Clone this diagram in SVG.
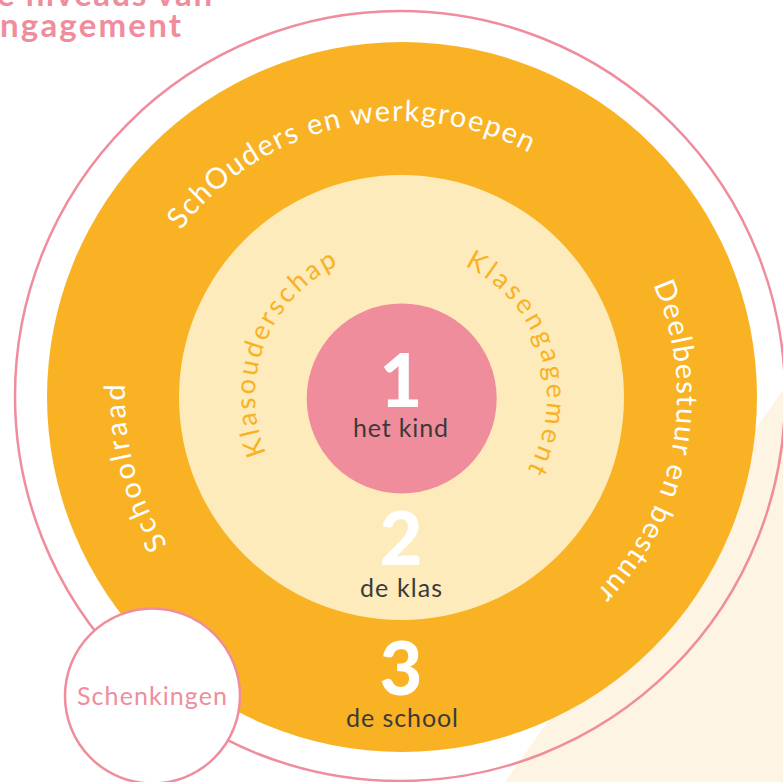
<svg xmlns="http://www.w3.org/2000/svg" width="783" height="782" viewBox="0 0 783 782">
<style>
  .pinkstroke { fill: none; stroke: #F08D9C; stroke-width: 2.5; }
  .ring-txt { font-family: Lato, "Noto Sans", sans-serif; font-size: 29px; fill: #FFFFFF; }
  .inner-txt { font-family: Lato, "Noto Sans", sans-serif; font-size: 27px; fill: #F9B224; }
  .num { font-family: Lato, "Noto Sans", sans-serif; font-weight: 900; font-size: 74px; fill: #FFFFFF; text-anchor: middle; }
  .lbl { font-family: Lato, "Noto Sans", sans-serif; font-size: 25px; fill: #3A3A3A; text-anchor: middle; }
  .title { font-family: Lato, "Noto Sans", sans-serif; font-weight: 700; font-size: 33px; fill: #F08D9C; }
</style>
<defs>
  <path id="p-schouders" d="M 180.9 230.5 A 276 276 0 0 1 603.2 209.1"/>
  <path id="p-deel" d="M 653.1 284.7 A 276 276 0 0 1 513.3 649.1"/>
  <path id="p-schoolraad" d="M 167.7 544.5 A 276 276 0 0 1 156.6 268.7"/>
  <path id="p-klasouder" d="M 266.3 453.3 A 146 146 0 0 1 394.1 251.2"/>
  <path id="p-klaseng" d="M 464.8 265.7 A 146 146 0 0 1 502.6 501.8"/>
</defs>
<rect width="783" height="782" fill="#FFFFFF"/>
<polygon id="background" points="505,782 783,390 783,782" fill="#FEF4E3"/>
<g id="outer">
  <circle class="pinkstroke" cx="400" cy="396" r="385"/>
</g>
<g id="level3">
  <circle cx="402" cy="397" r="355" fill="#F9B224"/>
  <text class="ring-txt"><textPath href="#p-schouders" textLength="388">SchOuders en werkgroepen</textPath></text>
  <text class="ring-txt"><textPath href="#p-deel" textLength="332">Deelbestuur en bestuur</textPath></text>
  <text class="ring-txt"><textPath href="#p-schoolraad" textLength="168">Schoolraad</textPath></text>
  <text class="num" x="401" y="695">3</text>
  <text class="lbl" x="402" y="727" textLength="112">de school</text>
</g>
<g id="level2">
  <circle cx="401.5" cy="397.5" r="222.5" fill="#FEEBBB"/>
  <text class="inner-txt"><textPath href="#p-klasouder" textLength="222">Klasouderschap</textPath></text>
  <text class="inner-txt"><textPath href="#p-klaseng" textLength="239">Klasengagement</textPath></text>
  <text class="num" x="401" y="565">2</text>
  <text class="lbl" x="401" y="597" textLength="82">de klas</text>
</g>
<g id="level1">
  <circle cx="401.7" cy="398.5" r="95" fill="#F08D9C"/>
  <text class="num" x="401" y="407">1</text>
  <text class="lbl" x="400.5" y="437" textLength="95">het kind</text>
</g>
<g id="schenkingen">
  <circle cx="152.5" cy="696" r="87.5" fill="#FFFFFF" stroke="#F08D9C" stroke-width="2.5"/>
  <text x="152" y="705" text-anchor="middle" textLength="150" style="font-family: Lato, 'Noto Sans', sans-serif; font-size: 25px; fill: #F08D9C;">Schenkingen</text>
</g>
<g id="title">
  <text class="title" x="-3" y="6" textLength="215">e niveaus van</text>
  <text class="title" x="0" y="37" textLength="181">ngagement</text>
</g>
</svg>
